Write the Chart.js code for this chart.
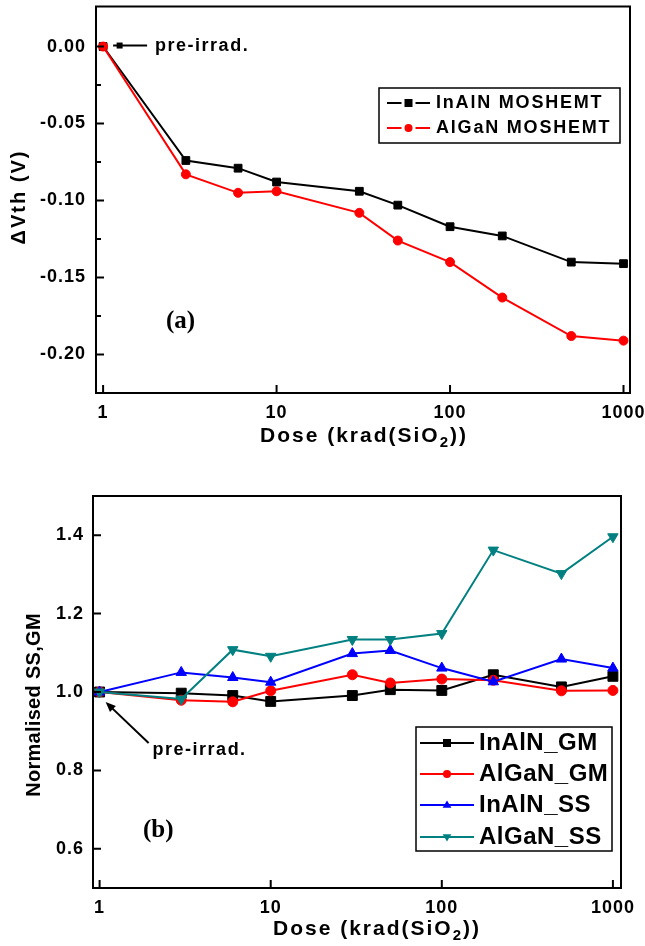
<!DOCTYPE html>
<html>
<head>
<meta charset="utf-8">
<script src="https://cdn.jsdelivr.net/npm/chart.js@4.4.1/dist/chart.umd.min.js"></script>
<style>
  html, body { margin: 0; padding: 0; background: #fff; }
  canvas { display: block; }
</style>
</head>
<body>
<canvas id="chartA" width="645" height="473"></canvas>
<canvas id="chartB" width="645" height="473"></canvas>
<script>
// dose steps in krad(SiO2), same for both panels
const doses = [1, 3, 6, 10, 30, 50, 100, 200, 500, 1000];
const doseTicks = [1, 10, 100, 1000];

// panel (a): threshold voltage shift (V)
const dvthTicks = [-0.20, -0.15, -0.10, -0.05, 0.00];
const inalnDVth = [0, -0.074, -0.079, -0.088, -0.094, -0.103, -0.117, -0.123, -0.140, -0.141];
const alganDVth = [0, -0.083, -0.095, -0.094, -0.108, -0.126, -0.140, -0.163, -0.188, -0.191];

// panel (b): normalised SS and GM
const normTicks = [0.6, 0.8, 1.0, 1.2, 1.4];
const inalnGM = [1.0, 0.997, 0.991, 0.976, 0.991, 1.006, 1.004, 1.044, 1.013, 1.040];
const alganGM = [1.0, 0.979, 0.975, 1.003, 1.044, 1.023, 1.033, 1.030, 1.003, 1.004];
const inalnSS = [1.0, 1.050, 1.037, 1.025, 1.098, 1.106, 1.061, 1.026, 1.084, 1.061];
const alganSS = [1.0, 0.982, 1.108, 1.091, 1.134, 1.134, 1.149, 1.362, 1.302, 1.396];

const SANS = '"Liberation Sans", Arial, sans-serif';
const SERIF = '"Liberation Serif", "Times New Roman", serif';
const TEAL = '#008080';

const pairs = (xs, ys) => xs.map((x, i) => ({ x: x, y: ys[i] }));

function text(ctx, str, x, y, font, spacing, align, baseline) {
  ctx.save();
  ctx.font = font;
  ctx.letterSpacing = (spacing || 0) + 'px';
  ctx.textAlign = align || 'left';
  ctx.textBaseline = baseline || 'alphabetic';
  ctx.fillStyle = '#000';
  ctx.fillText(str, x, y);
  ctx.restore();
}

// x title with the subscript 2 in SiO2
function doseTitle(ctx, cx, y, spacing) {
  const big = 'bold 21px ' + SANS, small = 'bold 15px ' + SANS;
  const parts = [['Dose (krad(SiO', big, 0], ['2', small, 5], ['))', big, 0]];
  ctx.save();
  ctx.letterSpacing = spacing + 'px';
  let total = 0;
  parts.forEach(p => { ctx.font = p[1]; total += ctx.measureText(p[0]).width; });
  ctx.restore();
  let x = cx - total / 2;
  parts.forEach(p => {
    text(ctx, p[0], x, y + p[2], p[1], spacing);
    ctx.save(); ctx.font = p[1]; ctx.letterSpacing = spacing + 'px';
    x += ctx.measureText(p[0]).width;
    ctx.restore();
  });
}

function marker(ctx, style, x, y, r, color) {
  ctx.save();
  ctx.fillStyle = color;
  ctx.beginPath();
  if (style === 'rect') {
    ctx.rect(x - r, y - r, 2 * r, 2 * r);
  } else if (style === 'circle') {
    ctx.arc(x, y, r, 0, Math.PI * 2);
  } else {
    const s = style === 'triangle' ? 1 : -1;
    ctx.moveTo(x, y - s * r * 1.15);
    ctx.lineTo(x + r * 1.1, y + s * r * 0.7);
    ctx.lineTo(x - r * 1.1, y + s * r * 0.7);
    ctx.closePath();
  }
  ctx.fill();
  ctx.restore();
}

function decor(cfg) {
  return {
    id: 'decor',
    beforeDraw(chart) {
      chart.ctx.letterSpacing = cfg.tickSpacing + 'px';
    },
    afterDraw(chart) {
      const ctx = chart.ctx, a = chart.chartArea;
      const xs = chart.scales.x, ys = chart.scales.y;
      ctx.letterSpacing = '0px';
      ctx.save();
      ctx.strokeStyle = '#000';
      ctx.lineWidth = 2;
      ctx.strokeRect(a.left, a.top, a.right - a.left, a.bottom - a.top);
      ctx.beginPath();
      xs.ticks.forEach(t => {
        const px = xs.getPixelForValue(t.value);
        ctx.moveTo(px, a.bottom); ctx.lineTo(px, a.bottom - 8);
      });
      ys.ticks.forEach((t, i) => {
        const py = ys.getPixelForValue(t.value);
        ctx.moveTo(a.left, py); ctx.lineTo(a.left + 8, py);
        if (cfg.yMinor && i > 0) {
          const pm = ys.getPixelForValue((t.value + ys.ticks[i - 1].value) / 2);
          ctx.moveTo(a.left, pm); ctx.lineTo(a.left + 5, pm);
        }
      });
      ctx.stroke();
      ctx.restore();

      // axis titles
      doseTitle(ctx, cfg.xTitle.x, cfg.xTitle.y, 2);
      ctx.save();
      ctx.translate(cfg.yTitle.x, cfg.yTitle.y);
      ctx.rotate(-Math.PI / 2);
      text(ctx, cfg.yTitle.text, 0, 0, 'bold ' + cfg.yTitle.size + 'px ' + SANS, cfg.yTitle.spacing, 'center', 'middle');
      ctx.restore();

      // panel tag
      text(ctx, cfg.tag.text, cfg.tag.x, cfg.tag.y, 'bold 25px ' + SERIF, 0);

      // legend
      const L = cfg.legend;
      ctx.save();
      ctx.strokeStyle = '#000';
      ctx.lineWidth = 1.5;
      ctx.strokeRect(L.x, L.y, L.w, L.h);
      ctx.restore();
      chart.data.datasets.forEach((ds, i) => {
        const ry = L.rows[i];
        const mx = (L.x0 + L.x1) / 2;
        ctx.save();
        ctx.strokeStyle = ds.borderColor;
        ctx.lineWidth = 2;
        ctx.beginPath();
        if (L.gap) {
          ctx.moveTo(L.x0, ry); ctx.lineTo(mx - L.gap, ry);
          ctx.moveTo(mx + L.gap, ry); ctx.lineTo(L.x1, ry);
        } else {
          ctx.moveTo(L.x0, ry); ctx.lineTo(L.x1, ry);
        }
        ctx.stroke();
        ctx.restore();
        marker(ctx, ds.legendMarker, mx, ry, L.markerR, ds.borderColor);
        text(ctx, ds.label, L.textX, ry, 'bold ' + L.size + 'px ' + SANS, L.spacing, 'left', 'middle');
      });

      // pre-irrad. note anchored at the first dose point
      const px = xs.getPixelForValue(doses[0]);
      const py = ys.getPixelForValue(chart.data.datasets[0].data[0].y);
      const n = cfg.note;
      if (n.kind === 'line') {
        ctx.save();
        ctx.strokeStyle = '#000';
        ctx.lineWidth = 2;
        ctx.beginPath();
        ctx.moveTo(px + 10, py - 1); ctx.lineTo(px + 44, py - 1);
        ctx.stroke();
        ctx.restore();
        marker(ctx, 'rect', px + 16.5, py - 1, 3, '#000');
        text(ctx, 'pre-irrad.', px + 52, py + 4, 'bold 18px ' + SANS, 1.5);
      } else {
        const hx = px + 6, hy = py + 10, tx = px + 49, ty = py + 51;
        const ang = Math.atan2(hy - ty, hx - tx);
        ctx.save();
        ctx.strokeStyle = '#000';
        ctx.fillStyle = '#000';
        ctx.lineWidth = 2;
        ctx.beginPath();
        ctx.moveTo(tx, ty);
        ctx.lineTo(hx - Math.cos(ang) * 6, hy - Math.sin(ang) * 6);
        ctx.stroke();
        ctx.beginPath();
        ctx.moveTo(hx, hy);
        ctx.lineTo(hx - Math.cos(ang - 0.4) * 11, hy - Math.sin(ang - 0.4) * 11);
        ctx.lineTo(hx - Math.cos(ang + 0.4) * 11, hy - Math.sin(ang + 0.4) * 11);
        ctx.closePath();
        ctx.fill();
        ctx.restore();
        text(ctx, 'pre-irrad.', px + 53, py + 63, 'bold 18px ' + SANS, 1.5);
      }
    }
  };
}

function series(label, values, color, style, radius, order, rotation) {
  return {
    label: label,
    data: pairs(doses, values),
    borderColor: color,
    backgroundColor: color,
    borderWidth: 2,
    pointStyle: style,
    pointRotation: rotation || 0,
    pointRadius: radius,
    pointBorderWidth: 1,
    pointHoverRadius: radius,
    legendMarker: rotation ? 'triangleDown' : style,
    order: order,
    clip: false,
    tension: 0
  };
}

function scales(yMin, yMax, yTicks, yFmt, yWidth, xHeight, xMin, xMax, yPad) {
  const tickFont = { family: SANS, size: 18, weight: 'bold' };
  return {
    x: {
      type: 'logarithmic', min: xMin, max: xMax,
      grid: { display: false, drawTicks: false }, border: { display: false },
      afterBuildTicks: s => { s.ticks = doseTicks.map(v => ({ value: v })); },
      afterFit: s => { s.height = xHeight; s.paddingLeft = 0; s.paddingRight = 0; },
      ticks: { font: tickFont, color: '#000', padding: 9, maxRotation: 0, autoSkip: false, callback: v => String(v) }
    },
    y: {
      type: 'linear', min: yMin, max: yMax,
      grid: { display: false, drawTicks: false }, border: { display: false },
      afterBuildTicks: s => { s.ticks = yTicks.map(v => ({ value: v })); },
      afterFit: s => { s.width = yWidth; s.paddingTop = 0; s.paddingBottom = 0; },
      ticks: { font: tickFont, color: '#000', padding: yPad, callback: yFmt }
    }
  };
}

const common = {
  responsive: false,
  animation: false,
  devicePixelRatio: 1,
  plugins: { legend: { display: false }, tooltip: { enabled: false } },
  events: []
};

new Chart(document.getElementById('chartA'), {
  type: 'line',
  data: {
    datasets: [
      series('InAlN MOSHEMT', inalnDVth, '#000000', 'rect', 5.5, 1),
      series('AlGaN MOSHEMT', alganDVth, '#ff0000', 'circle', 4.5, 0)
    ]
  },
  options: Object.assign({}, common, {
    layout: { padding: { top: 5, right: 15, left: 0, bottom: 0 } },
    scales: scales(-0.225, 0.026, dvthTicks, v => v.toFixed(2), 96, 80, 0.91, 1090, 10)
  }),
  plugins: [decor({
    tickSpacing: 1,
    yMinor: true,
    xTitle: { x: 364, y: 442 },
    yTitle: { x: 19, y: 197, text: '\u0394Vth (V)', size: 20, spacing: 2 },
    tag: { text: '(a)', x: 166, y: 328 },
    legend: { x: 379, y: 88, w: 241, h: 55, rows: [103, 128], x0: 387, x1: 430, gap: 7,
              markerR: 4, textX: 436, size: 18, spacing: 1.8 },
    note: { kind: 'line' }
  })]
});

new Chart(document.getElementById('chartB'), {
  type: 'line',
  data: {
    datasets: [
      series('InAlN_GM', inalnGM, '#000000', 'rect', 7, 3),
      series('AlGaN_GM', alganGM, '#ff0000', 'circle', 5, 2),
      series('InAlN_SS', inalnSS, '#0000ff', 'triangle', 6, 1),
      series('AlGaN_SS', alganSS, TEAL, 'triangle', 6, 0, 180)
    ]
  },
  options: Object.assign({}, common, {
    layout: { padding: { top: 23, right: 24, left: 0, bottom: 0 } },
    scales: scales(0.5, 1.5, normTicks, v => v.toFixed(1), 93, 58, 0.915, 1115, 9)
  }),
  plugins: [decor({
    tickSpacing: 1,
    yMinor: false,
    xTitle: { x: 377, y: 462 },
    yTitle: { x: 34, y: 232, text: 'Normalised SS,GM', size: 20, spacing: 0.3 },
    tag: { text: '(b)', x: 143, y: 364 },
    legend: { x: 416, y: 254, w: 196, h: 124, rows: [270, 301, 332, 364], x0: 420, x1: 474, gap: 0,
              markerR: 4, textX: 479, size: 24, spacing: 0.5 },
    note: { kind: 'arrow' }
  })]
});
</script>
</body>
</html>
